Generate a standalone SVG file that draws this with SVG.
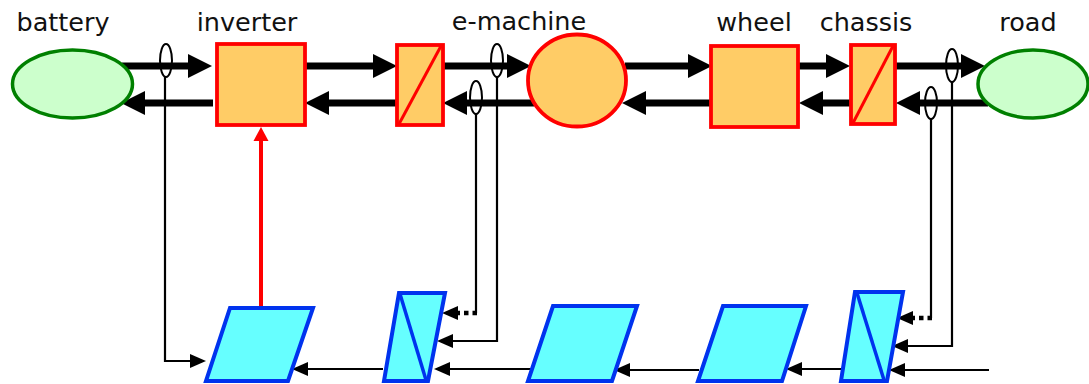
<svg xmlns="http://www.w3.org/2000/svg" width="1089" height="384" viewBox="0 0 1089 384">
<style>
.lbl{font-family:"DejaVu Sans",Verdana,sans-serif;font-size:25.5px;fill:#111;text-anchor:middle}
.env{fill:#ccffcc;stroke:#008000;stroke-width:3.5}
.blk{fill:#ffcc66;stroke:#ff0000;stroke-width:3.8}
.ctl{fill:#66ffff;stroke:#0033ee;stroke-width:4;stroke-linejoin:miter}
.thick{stroke:#000;stroke-width:7;fill:none}
.thin{stroke:#000;stroke-width:2.2;fill:none}
.dot{stroke:#000;stroke-width:4.5;stroke-dasharray:4.5 4;fill:none}
.sens{fill:none;stroke:#000;stroke-width:2}
</style>
<defs>
<polygon id="hR" points="-24,-12 0,0 -24,12" fill="#000"/>
<polygon id="hL" points="24,-12 0,0 24,12" fill="#000"/>
<polygon id="tR" points="-16,-7 0,0 -16,7" fill="#000"/>
<polygon id="tL" points="16,-7 0,0 16,7" fill="#000"/>
</defs>

<g id="labels">
<text class="lbl" x="63" y="31">battery</text>
<text class="lbl" x="247" y="31">inverter</text>
<text class="lbl" x="519" y="30">e-machine</text>
<text class="lbl" x="754" y="31">wheel</text>
<text class="lbl" x="866" y="31">chassis</text>
<text class="lbl" x="1028" y="31">road</text>
</g>

<g id="connectors">
<line class="thick" x1="122" y1="66" x2="195" y2="66"/><use href="#hR" x="212" y="66"/>
<line class="thick" x1="213" y1="103" x2="138" y2="103"/><use href="#hL" x="121" y="103"/>
<line class="thick" x1="305" y1="66" x2="380" y2="66"/><use href="#hR" x="397" y="66"/>
<line class="thick" x1="397" y1="103" x2="322" y2="103"/><use href="#hL" x="305" y="103"/>
<line class="thick" x1="443" y1="66" x2="514" y2="66"/><use href="#hR" x="531" y="66"/>
<line class="thick" x1="534" y1="103" x2="460" y2="103"/><use href="#hL" x="443" y="103"/>
<line class="thick" x1="625" y1="66" x2="695" y2="66"/><use href="#hR" x="712" y="66"/>
<line class="thick" x1="711" y1="103" x2="639" y2="103"/><use href="#hL" x="622" y="103"/>
<line class="thick" x1="798" y1="66" x2="833" y2="66"/><use href="#hR" x="850" y="66"/>
<line class="thick" x1="850" y1="103" x2="816" y2="103"/><use href="#hL" x="799" y="103"/>
<line class="thick" x1="896" y1="66" x2="968" y2="66"/><use href="#hR" x="985" y="66"/>
<line class="thick" x1="988" y1="103" x2="913" y2="103"/><use href="#hL" x="896" y="103"/>

<ellipse class="sens" cx="166" cy="60.5" rx="6" ry="16.5"/>
<ellipse class="sens" cx="497" cy="60.5" rx="6" ry="16.5"/>
<ellipse class="sens" cx="476" cy="97.5" rx="6" ry="16.5"/>
<ellipse class="sens" cx="952" cy="65.5" rx="6" ry="16.5"/>
<ellipse class="sens" cx="931" cy="103" rx="6" ry="16"/>

<polyline class="thin" points="165,77 165,361 192,361"/><use href="#tR" x="206" y="361"/>
<polyline class="thin" points="497,77 497,341 450,341"/><use href="#tL" x="437" y="341"/>
<line class="thin" x1="476" y1="114" x2="476" y2="313"/>
<line class="dot" x1="477" y1="313" x2="452" y2="313"/><use href="#tL" x="442" y="313"/>
<polyline class="thin" points="952,82 952,346 905,346"/><use href="#tL" x="892" y="346"/>
<line class="thin" x1="931" y1="119" x2="931" y2="318"/>
<line class="dot" x1="932" y1="318" x2="907" y2="318"/><use href="#tL" x="897" y="318"/>

<line class="thin" x1="383" y1="369" x2="305" y2="369"/><use href="#tL" x="292" y="369"/>
<line class="thin" x1="531" y1="369" x2="447" y2="369"/><use href="#tL" x="434" y="369"/>
<line class="thin" x1="699" y1="370" x2="627" y2="370"/><use href="#tL" x="614" y="370"/>
<line class="thin" x1="842" y1="369" x2="799" y2="369"/><use href="#tL" x="786" y="369"/>
<line class="thin" x1="989" y1="370" x2="902" y2="370"/><use href="#tL" x="889" y="370"/>

<line x1="261" y1="308" x2="261" y2="138" stroke="#ff0000" stroke-width="4"/>
<polygon points="253.5,141 261,127 268.5,141" fill="#ff0000"/>
</g>

<g id="battery"><ellipse class="env" cx="72.5" cy="84" rx="60" ry="34"/></g>
<g id="inverter"><rect class="blk" x="217" y="44" width="88" height="81"/></g>
<g id="converter1"><rect class="blk" x="397" y="45" width="46" height="80"/><line x1="399" y1="124" x2="441" y2="46" stroke="#ff0000" stroke-width="3"/></g>
<g id="emachine"><ellipse class="blk" cx="577" cy="80.5" rx="49" ry="46"/></g>
<g id="wheel"><rect class="blk" x="711" y="46" width="87" height="81"/></g>
<g id="chassis"><rect class="blk" x="851" y="45" width="44" height="79"/><line x1="853" y1="123" x2="893" y2="46" stroke="#ff0000" stroke-width="3"/></g>
<g id="road"><ellipse class="env" cx="1033" cy="84" rx="55" ry="34"/></g>

<g id="ctrl1"><polygon class="ctl" points="230,308 313,308 288,381 206,381"/></g>
<g id="ctrl2"><polygon class="ctl" points="399,293 445,293 428,381 384,381"/><line x1="400" y1="294" x2="426" y2="380" stroke="#0033ee" stroke-width="3.5"/></g>
<g id="ctrl3"><polygon class="ctl" points="553,306 637,306 612,381 528,381"/></g>
<g id="ctrl4"><polygon class="ctl" points="723,306 806,306 782,381 698,381"/></g>
<g id="ctrl5"><polygon class="ctl" points="855,292 903,292 887,381 841,381"/><line x1="857" y1="293" x2="884" y2="380" stroke="#0033ee" stroke-width="3.5"/></g>
</svg>
